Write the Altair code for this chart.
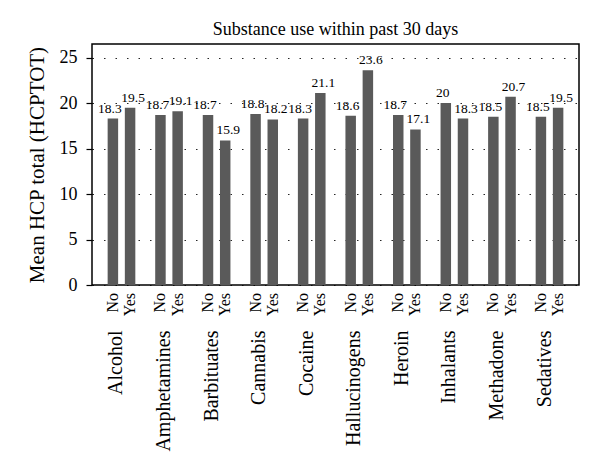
import altair as alt
import pandas as pd

substances = ["Alcohol", "Amphetamines", "Barbituates", "Cannabis", "Cocaine",
              "Hallucinogens", "Heroin", "Inhalants", "Methadone", "Sedatives"]
statuses = ["No", "Yes"]
no_values = [18.3, 18.7, 18.7, 18.8, 18.3, 18.6, 18.7, 20, 18.5, 18.5]
yes_values = [19.5, 19.1, 15.9, 18.2, 21.1, 23.6, 17.1, 18.3, 20.7, 19.5]
y_ticks = [0, 5, 10, 15, 20, 25]

rows = []
for s, n, v in zip(substances, no_values, yes_values):
    rows.append({"substance": s, "status": "No", "value": n, "label": f"{n:g}"})
    rows.append({"substance": s, "status": "Yes", "value": v, "label": f"{v:g}"})
df = pd.DataFrame(rows)

FONT = "Liberation Serif"
W, H = 487, 241

x = alt.X("substance:N", sort=substances,
          scale=alt.Scale(paddingInner=0, paddingOuter=0.12),
          axis=alt.Axis(labelAngle=270, labelPadding=45, labelFontSize=20,
                        labelFont=FONT, labelColor="black", ticks=False,
                        domain=False, labelOffset=-5, title=None))
xo = alt.XOffset("status:N", sort=statuses,
                 scale=alt.Scale(paddingInner=0.39, paddingOuter=0.578))
y = alt.Y("value:Q", scale=alt.Scale(domain=[0, 26.5], nice=False),
          axis=alt.Axis(values=y_ticks, tickSize=6, tickColor="black",
                        tickWidth=1.2, domain=False, labelFont=FONT,
                        labelFontSize=18, labelColor="black", labelPadding=9,
                        grid=True, gridDash=[1.5, 10], gridColor="black",
                        gridOpacity=0.85, gridWidth=1.2,
                        title="Mean HCP total (HCPTOT)", titleFont=FONT,
                        titleFontSize=21, titleFontWeight="normal",
                        titleColor="black", titlePadding=12))

base = alt.Chart(df)
bars = base.mark_bar(color="#5a5a5a").encode(x=x, xOffset=xo, y=y)
vals_no = base.transform_filter(alt.datum.status == "No").mark_text(
    baseline="bottom", dy=-3, dx=-3, font=FONT, fontSize=13.5, color="black"
).encode(x=x, xOffset=xo, y=y, text="label:N")
vals_yes = base.transform_filter(alt.datum.status == "Yes").mark_text(
    baseline="bottom", dy=-3, dx=3, font=FONT, fontSize=13.5, color="black"
).encode(x=x, xOffset=xo, y=y, text="label:N")
stat = base.mark_text(angle=270, align="right", baseline="middle", font=FONT,
                      fontSize=16, color="black").encode(
    x=x, xOffset=xo, y=alt.value(H + 8), text="status:N")

chart = alt.layer(bars, vals_no, vals_yes, stat).properties(
    width=W, height=H,
    autosize=alt.AutoSizeParams(type="none"),
    padding={"left": 84, "top": 36, "right": 13, "bottom": 180},
    title=alt.TitleParams("Substance use within past 30 days", font=FONT,
                          fontSize=18, fontWeight="normal", color="black",
                          offset=5),
).configure_view(stroke="black", strokeWidth=1.5)

chart.save("out.html", embed_options={"renderer": "svg", "actions": False})
